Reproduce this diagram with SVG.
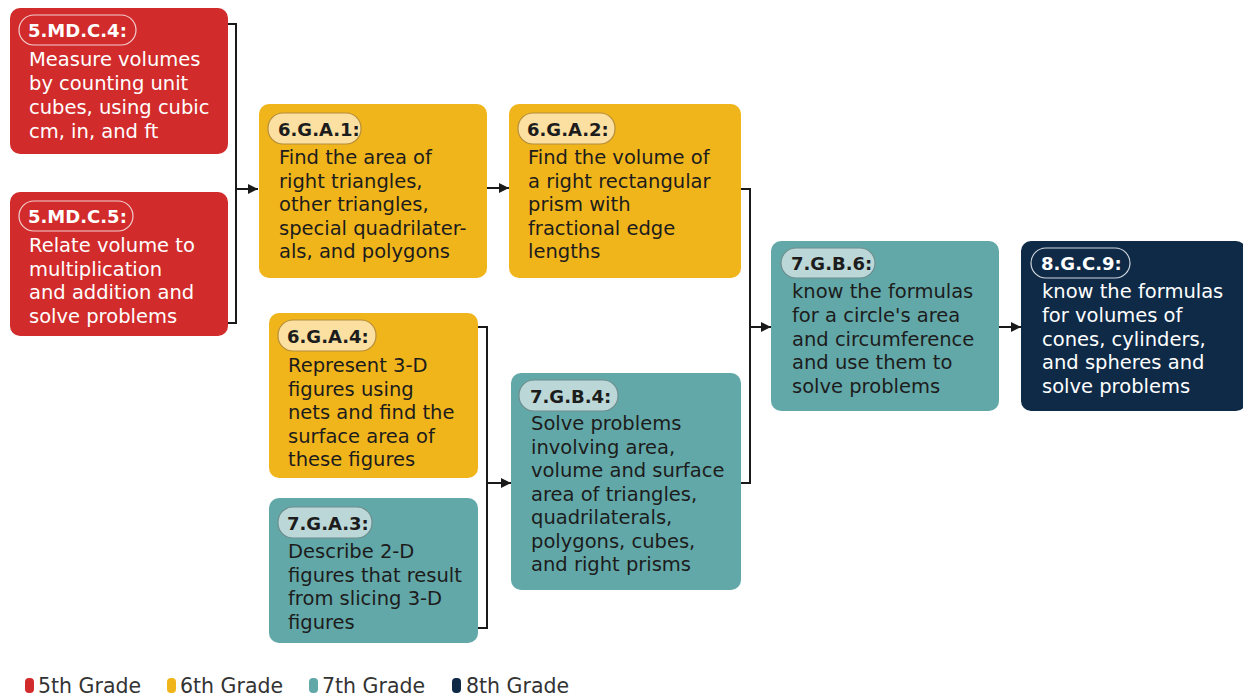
<svg xmlns="http://www.w3.org/2000/svg" width="1243" height="697" viewBox="0 0 1243 697">
<style>
  .body { font-family: "DejaVu Sans", "Liberation Sans", sans-serif; font-size: 19.5px; }
  .lbl { font-family: "DejaVu Sans", "Liberation Sans", sans-serif; font-size: 18px; font-weight: bold; }
  .light { fill: #ffffff; }
  .dark { fill: #1c1c1c; }
  .red { fill: #D22B2B; }
  .yellow { fill: #F1B51C; }
  .teal { fill: #63A8A8; }
  .navy { fill: #0E2A47; }
  .pill-red { fill: #D22B2B; stroke: #F3CFCF; stroke-width: 1.2; }
  .pill-navy { fill: #0E2A47; stroke: #D0D6DE; stroke-width: 1.2; }
  .pill-yellow { fill: #FBE0A2; stroke: #B58E3A; stroke-width: 1.2; }
  .pill-teal { fill: #BBD7D7; stroke: #6E8E8E; stroke-width: 1.2; }
  .conn { fill: none; stroke: #1a1a1a; stroke-width: 2; }
  .legend { font-family: "DejaVu Sans", "Liberation Sans", sans-serif; font-size: 20.5px; fill: #333333; }
</style>
<defs>
  <marker id="arrow" viewBox="0 0 10 10" refX="10" refY="5" markerWidth="5" markerHeight="5" orient="auto" markerUnits="strokeWidth">
    <path d="M0,0 L10,5 L0,10 z" fill="#1a1a1a"/>
  </marker>
</defs>
<rect width="1243" height="697" fill="#ffffff"/>

<g id="connectors">
  <path class="conn" d="M228,24 H236 V323 H228"/>
  <path class="conn" d="M236,189 H258" marker-end="url(#arrow)"/>
  <path class="conn" d="M487,188 H509" marker-end="url(#arrow)"/>
  <path class="conn" d="M741,189 H750 V483 H741"/>
  <path class="conn" d="M750,327 H771" marker-end="url(#arrow)"/>
  <path class="conn" d="M478,327 H487 V628 H478"/>
  <path class="conn" d="M487,483 H511" marker-end="url(#arrow)"/>
  <path class="conn" d="M999,327 H1021" marker-end="url(#arrow)"/>
</g>

<g id="n-5MDC4">
  <rect class="red" x="10" y="8" width="218" height="146" rx="10"/>
  <rect class="pill-red" x="19" y="15" width="117" height="30" rx="15"/>
  <text class="lbl light" x="28" y="37">5.MD.C.4:</text>
  <text class="body light">
    <tspan x="29" y="66">Measure volumes</tspan>
    <tspan x="29" y="90">by counting unit</tspan>
    <tspan x="29" y="114">cubes, using cubic</tspan>
    <tspan x="29" y="138">cm, in, and ft</tspan>
  </text>
</g>

<g id="n-5MDC5">
  <rect class="red" x="10" y="192" width="218" height="144" rx="10"/>
  <rect class="pill-red" x="19" y="201" width="114" height="30" rx="15"/>
  <text class="lbl light" x="28" y="223">5.MD.C.5:</text>
  <text class="body light">
    <tspan x="29" y="252">Relate volume to</tspan>
    <tspan x="29" y="275.5">multiplication</tspan>
    <tspan x="29" y="299">and addition and</tspan>
    <tspan x="29" y="322.5">solve problems</tspan>
  </text>
</g>

<g id="n-6GA1">
  <rect class="yellow" x="259" y="104" width="228" height="174" rx="10"/>
  <rect class="pill-yellow" x="268" y="113" width="93" height="31" rx="15"/>
  <text class="lbl dark" x="278" y="136">6.G.A.1:</text>
  <text class="body dark">
    <tspan x="279" y="164">Find the area of</tspan>
    <tspan x="279" y="187.5">right triangles,</tspan>
    <tspan x="279" y="211">other triangles,</tspan>
    <tspan x="279" y="234.5">special quadrilater-</tspan>
    <tspan x="279" y="258">als, and polygons</tspan>
  </text>
</g>

<g id="n-6GA2">
  <rect class="yellow" x="509" y="104" width="232" height="174" rx="10"/>
  <rect class="pill-yellow" x="518" y="113" width="97" height="31" rx="15"/>
  <text class="lbl dark" x="527" y="136">6.G.A.2:</text>
  <text class="body dark">
    <tspan x="528" y="164">Find the volume of</tspan>
    <tspan x="528" y="187.5">a right rectangular</tspan>
    <tspan x="528" y="211">prism with</tspan>
    <tspan x="528" y="234.5">fractional edge</tspan>
    <tspan x="528" y="258">lengths</tspan>
  </text>
</g>

<g id="n-6GA4">
  <rect class="yellow" x="269" y="313" width="209" height="165" rx="10"/>
  <rect class="pill-yellow" x="278" y="320" width="98" height="31" rx="15"/>
  <text class="lbl dark" x="287" y="343">6.G.A.4:</text>
  <text class="body dark">
    <tspan x="288" y="372">Represent 3-D</tspan>
    <tspan x="288" y="395.5">figures using</tspan>
    <tspan x="288" y="419">nets and find the</tspan>
    <tspan x="288" y="442.5">surface area of</tspan>
    <tspan x="288" y="466">these figures</tspan>
  </text>
</g>

<g id="n-7GA3">
  <rect class="teal" x="269" y="498" width="209" height="145" rx="10"/>
  <rect class="pill-teal" x="278" y="507" width="94" height="31" rx="15"/>
  <text class="lbl dark" x="287" y="530">7.G.A.3:</text>
  <text class="body dark">
    <tspan x="288" y="558">Describe 2-D</tspan>
    <tspan x="288" y="581.5">figures that result</tspan>
    <tspan x="288" y="605">from slicing 3-D</tspan>
    <tspan x="288" y="628.5">figures</tspan>
  </text>
</g>

<g id="n-7GB4">
  <rect class="teal" x="511" y="373" width="230" height="217" rx="10"/>
  <rect class="pill-teal" x="519" y="380" width="99" height="31" rx="15"/>
  <text class="lbl dark" x="530" y="403">7.G.B.4:</text>
  <text class="body dark">
    <tspan x="531" y="430">Solve problems</tspan>
    <tspan x="531" y="453.5">involving area,</tspan>
    <tspan x="531" y="477">volume and surface</tspan>
    <tspan x="531" y="500.5">area of triangles,</tspan>
    <tspan x="531" y="524">quadrilaterals,</tspan>
    <tspan x="531" y="547.5">polygons, cubes,</tspan>
    <tspan x="531" y="571">and right prisms</tspan>
  </text>
</g>

<g id="n-7GB6">
  <rect class="teal" x="771" y="241" width="228" height="170" rx="10"/>
  <rect class="pill-teal" x="781" y="248" width="94" height="30" rx="15"/>
  <text class="lbl dark" x="791" y="270">7.G.B.6:</text>
  <text class="body dark">
    <tspan x="792" y="298">know the formulas</tspan>
    <tspan x="792" y="322">for a circle's area</tspan>
    <tspan x="792" y="345.5">and circumference</tspan>
    <tspan x="792" y="369">and use them to</tspan>
    <tspan x="792" y="393">solve problems</tspan>
  </text>
</g>

<g id="n-8GC9">
  <rect class="navy" x="1021" y="241" width="225" height="170" rx="10"/>
  <rect class="pill-navy" x="1031" y="248" width="99" height="30" rx="15"/>
  <text class="lbl light" x="1041" y="270">8.G.C.9:</text>
  <text class="body light">
    <tspan x="1042" y="298">know the formulas</tspan>
    <tspan x="1042" y="322">for volumes of</tspan>
    <tspan x="1042" y="345.5">cones, cylinders,</tspan>
    <tspan x="1042" y="369">and spheres and</tspan>
    <tspan x="1042" y="393">solve problems</tspan>
  </text>
</g>

<g id="legend">
  <rect class="red" x="25" y="678" width="9" height="15" rx="4"/>
  <text class="legend" x="38" y="693">5th Grade</text>
  <rect class="yellow" x="167" y="678" width="9" height="15" rx="4"/>
  <text class="legend" x="180" y="693">6th Grade</text>
  <rect class="teal" x="309" y="678" width="9" height="15" rx="4"/>
  <text class="legend" x="322" y="693">7th Grade</text>
  <rect class="navy" x="452" y="678" width="9" height="15" rx="4"/>
  <text class="legend" x="466" y="693">8th Grade</text>
</g>
</svg>
